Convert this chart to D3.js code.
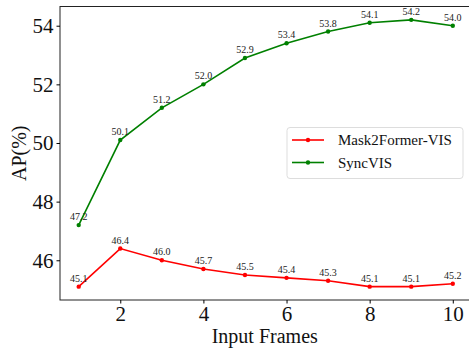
<!DOCTYPE html>
<html>
<head>
<meta charset="utf-8">
<script src="https://cdn.jsdelivr.net/npm/d3@7"></script>
<style>
  body { margin: 0; background: #fff; }
  svg text { font-family: "Liberation Serif", "Times New Roman", serif !important; }
</style>
</head>
<body>
<div id="chart"></div>
<script>
const width = 469;
const height = 348;

const frames = [1, 2, 3, 4, 5, 6, 7, 8, 9, 10];
const mask2former = [45.1, 46.4, 46.0, 45.7, 45.5, 45.4, 45.3, 45.1, 45.1, 45.2];
const syncvis = [47.2, 50.1, 51.2, 52.0, 52.9, 53.4, 53.8, 54.1, 54.2, 54.0];
const xTicks = [2, 4, 6, 8, 10];
const yTicks = [46, 48, 50, 52, 54];

const series = [
  { name: "Mask2Former-VIS", color: "#ff0000", values: mask2former },
  { name: "SyncVIS", color: "#008000", values: syncvis }
];

const serif = "'Liberation Serif', 'Times New Roman', serif";
const margin = { left: 60, top: 6.5, right: -2.5, bottom: 48 };

const svg = d3.select("#chart")
  .append("svg")
  .attr("width", width)
  .attr("height", height)
  .style("font-family", serif);

const x = d3.scaleLinear()
  .domain([0.55, 10.45])
  .range([margin.left, width - margin.right]);

const y = d3.scaleLinear()
  .domain([44.645, 54.655])
  .range([height - margin.bottom, margin.top]);

// frame
svg.append("rect")
  .attr("x", x.range()[0])
  .attr("y", y.range()[1])
  .attr("width", x.range()[1] - x.range()[0])
  .attr("height", y.range()[0] - y.range()[1])
  .attr("fill", "none")
  .attr("stroke", "#222")
  .attr("stroke-width", 1);

const xAxis = svg.append("g")
  .attr("transform", `translate(0,${y.range()[0]})`)
  .call(d3.axisBottom(x).tickValues(xTicks).tickSize(3.5).tickPadding(3).tickFormat(d3.format("d")));
xAxis.attr("font-family", serif);
xAxis.select(".domain").remove();
xAxis.selectAll("text").attr("font-size", 21).attr("fill", "#111").style("font-family", serif);

const yAxis = svg.append("g")
  .attr("transform", `translate(${x.range()[0]},0)`)
  .call(d3.axisLeft(y).tickValues(yTicks).tickSize(3.5).tickPadding(3).tickFormat(d3.format("d")));
yAxis.attr("font-family", serif);
yAxis.select(".domain").remove();
yAxis.selectAll("text").attr("font-size", 21).attr("fill", "#111").style("font-family", serif);

svg.append("text")
  .attr("x", (x.range()[0] + x.range()[1]) / 2 - 1)
  .attr("y", 342.5)
  .attr("text-anchor", "middle")
  .attr("font-size", 20)
  .attr("fill", "#111")
  .text("Input Frames");

svg.append("text")
  .attr("transform", `translate(25.5,${(y.range()[0] + y.range()[1]) / 2}) rotate(-90)`)
  .attr("text-anchor", "middle")
  .attr("font-size", 20)
  .attr("fill", "#111")
  .text("AP(%)");

const line = d3.line()
  .x((d, i) => x(frames[i]))
  .y(d => y(d));

series.forEach(s => {
  svg.append("path")
    .datum(s.values)
    .attr("d", line)
    .attr("fill", "none")
    .attr("stroke", s.color)
    .attr("stroke-width", 1.6);

  svg.append("g")
    .selectAll("circle")
    .data(s.values)
    .join("circle")
    .attr("cx", (d, i) => x(frames[i]))
    .attr("cy", d => y(d))
    .attr("r", 2.2)
    .attr("fill", s.color);

  svg.append("g")
    .selectAll("text")
    .data(s.values)
    .join("text")
    .attr("x", (d, i) => x(frames[i]))
    .attr("y", d => y(d) - 5)
    .attr("text-anchor", "middle")
    .attr("font-size", 10)
    .attr("fill", "#222")
    .text(d => d.toFixed(1));
});

// legend
const legend = svg.append("g").attr("transform", "translate(287,127.5)");
legend.append("rect")
  .attr("width", 176)
  .attr("height", 51)
  .attr("rx", 3)
  .attr("fill", "#fff")
  .attr("stroke", "#ddd");

series.forEach((s, i) => {
  const g = legend.append("g").attr("transform", `translate(5,${12.5 + i * 22.5})`);
  g.append("line")
    .attr("x1", 0).attr("x2", 32)
    .attr("stroke", s.color)
    .attr("stroke-width", 1.6);
  g.append("circle")
    .attr("cx", 16)
    .attr("r", 2.2)
    .attr("fill", s.color);
  g.append("text")
    .attr("x", 46)
    .attr("dy", "0.35em")
    .attr("font-size", 15)
    .attr("fill", "#111")
    .text(s.name);
});
</script>
</body>
</html>
